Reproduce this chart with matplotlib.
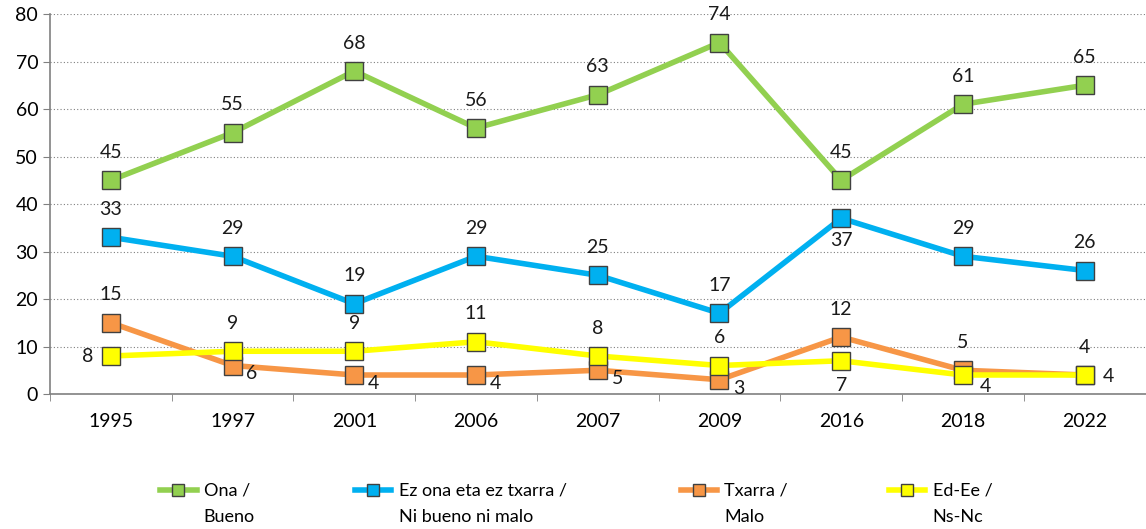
import numpy as np
import matplotlib.pyplot as plt
from matplotlib.lines import Line2D

plt.rcParams['font.family'] = ['Lato', 'DejaVu Sans']

years = ['1995', '1997', '2001', '2006', '2007', '2009', '2016', '2018', '2022']
ona = [45, 55, 68, 56, 63, 74, 45, 61, 65]
ez_ona = [33, 29, 19, 29, 25, 17, 37, 29, 26]
txarra = [15, 6, 4, 4, 5, 3, 12, 5, 4]
ed_ee = [8, 9, 9, 11, 8, 6, 7, 4, 4]

labels_eu = ['Ona /', 'Ez ona eta ez txarra /', 'Txarra /', 'Ed-Ee /']
labels_es = ['Bueno', 'Ni bueno ni malo', 'Malo', 'Ns-Nc']
colors = ['#92D050', '#00B0F0', '#F79646', '#FFFF00']

# where each value label sits relative to its marker (points)
up = (0, 20)
down = (0, -16)
below_right = (14, -6)
pos_ona = [up] * 9
pos_ez = [up] * 6 + [down] + [up] * 2
pos_tx = [up, below_right, below_right, below_right, below_right, below_right, up, up, up]
pos_ed = [(-17, 0), up, up, up, up, up, (0, -18), (16, -8), (17, -1)]

fig = plt.figure(figsize=(11.46, 5.29), dpi=100)
ax = fig.add_axes([0.0436, 0.2552, 0.956, 0.7183])
x = np.arange(len(years))

series = [ona, ez_ona, txarra, ed_ee]
positions = [pos_ona, pos_ez, pos_tx, pos_ed]
for vals, col, pos in zip(series, colors, positions):
    ax.plot(x, vals, color=col, lw=4, marker='s', ms=13,
            markerfacecolor=col, markeredgecolor='#404040', markeredgewidth=1, zorder=3)
    for xi, v, off in zip(x, vals, pos):
        ax.annotate(str(v), (xi, v), xytext=off, textcoords='offset points',
                    ha='center', va='center', fontsize=14, color='#1a1a1a')

ax.set_xlim(-0.5, len(years) - 0.5)
ax.set_ylim(0, 80)
ax.set_yticks(range(0, 81, 10))
ax.set_xticks(x)
ax.set_xticklabels(years)
ax.set_xticks(np.arange(-0.5, len(years), 1), minor=True)
ax.tick_params(axis='x', which='major', length=0, pad=14, labelsize=14)
ax.tick_params(axis='x', which='minor', length=5, color='#808080')
ax.tick_params(axis='y', length=5, color='#808080', labelsize=14)
ax.grid(axis='y', color='#808080', ls=(0, (1, 2)), lw=0.8)
for s in ['top', 'right']:
    ax.spines[s].set_visible(False)
for s in ['left', 'bottom']:
    ax.spines[s].set_color('#808080')
    ax.spines[s].set_linewidth(1.2)

# one legend per series along the bottom; the Spanish line goes underneath
legend_x = [0.140, 0.310, 0.594, 0.776]
legends = []
for c, lab, lx in zip(colors, labels_eu, legend_x):
    h = Line2D([0], [0], color=c, lw=4, marker='s', ms=9, markerfacecolor=c,
               markeredgecolor='#404040', markeredgewidth=1)
    leg = fig.legend([h], [lab], loc='center left', bbox_to_anchor=(lx, 1 - 491 / 529),
                     frameon=False, fontsize=13, handlelength=2.0,
                     handletextpad=0.4, borderpad=0, borderaxespad=0)
    legends.append(leg)

fig.canvas.draw()
inv = fig.transFigure.inverted()
for leg, lab in zip(legends, labels_es):
    x0 = inv.transform(leg.get_texts()[0].get_window_extent().p0)[0]
    fig.text(x0, 1 - 517 / 529, lab, fontsize=13, ha='left', va='center')

fig.savefig('out.png', dpi=100)
